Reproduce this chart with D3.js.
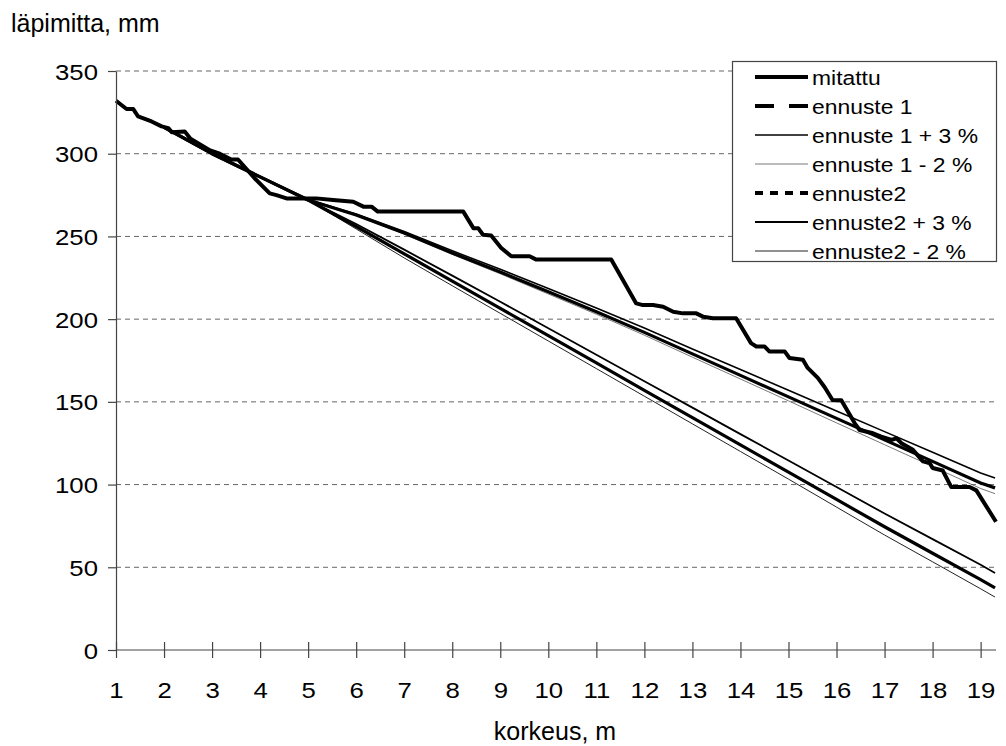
<!DOCTYPE html>
<meta charset="utf-8">
<style>
    body { margin: 0; background: #fff; }
    svg text {
        font-family: "Liberation Sans", Arial, Helvetica, sans-serif;
        fill: #000;
    }
    .grid line {
        stroke: #666;
        stroke-dasharray: 5,4;
    }
    .axis path, .axis line {
        stroke: #444;
        stroke-width: 1.2;
    }
</style>
<svg width="1006" height="746"></svg>
<script src="https://d3js.org/d3.v7.min.js"></script>
<script>

    // korkeus (m) and measured diameter (mm)
    var mitattuX = [1.00, 1.22, 1.36, 1.46, 1.74, 1.95, 2.09, 2.16, 2.43, 2.55, 2.96, 3.16,
        3.40, 3.54, 3.89, 4.20, 4.34, 4.55, 5.17, 5.52, 5.94, 6.15, 6.32, 6.45, 8.23, 8.44,
        8.54, 8.64, 8.81, 9.02, 9.23, 9.61, 9.75, 11.31, 11.83, 11.97, 12.18, 12.39, 12.60,
        12.80, 13.08, 13.22, 13.43, 13.91, 14.22, 14.33, 14.50, 14.60, 14.92, 15.02, 15.30,
        15.40, 15.61, 15.75, 15.92, 16.10, 16.38, 16.48, 16.76, 16.93, 17.15, 17.25, 17.35,
        17.59, 17.80, 17.94, 18.00, 18.21, 18.39, 18.77, 18.91, 19.32];
    var mitattuY = [332, 327, 327, 322.5, 319.5, 316.5, 315.5, 313, 313.5, 309, 302, 300,
        296.5, 296.5, 285, 276, 275, 273, 273, 272, 271, 268, 268, 265, 265, 255,
        255, 251, 250.5, 243, 238, 238, 236, 236, 209.5, 208.5, 208.5, 207.5, 204.5,
        203.5, 203.5, 201.5, 200.5, 200.5, 185.5, 183.5, 183.5, 180.5, 180.5, 176.5, 175.5,
        170.5, 164.5, 159, 151, 151, 137, 133, 131, 129, 127, 128, 125,
        121, 114, 113, 110, 108.5, 98.5, 98.5, 96.5, 77.5];

    // prediction heights and values
    var ennusteX = [2, 3, 4, 5, 6, 7, 8, 9, 10, 11, 12, 13, 14, 15, 16, 17, 18, 19, 19.3];
    var ennuste1 = [316, 300, 286, 272, 263, 252, 240, 228.5, 216.5, 204.5, 192, 179, 166, 153,
        140, 127, 114, 101, 98];
    var ennuste1Plus3 = [316, 300, 286, 272.3, 263.6, 253, 241.3, 230.1, 218.5, 206.8, 194.6,
        182, 169.5, 157, 144.5, 132, 119.5, 107, 104];
    var ennuste1Minus2 = [316, 300, 286, 271.8, 262.6, 251.4, 239.1, 227.4, 215.2, 203, 190.3,
        177, 163.8, 150.6, 137.3, 124.1, 110.9, 97.6, 94.5];
    var ennuste2 = [316, 300, 286, 272, 256, 239.5, 223, 206.5, 190, 173.5, 157, 140.5, 124,
        107.5, 91, 74.5, 58.5, 42.5, 37.5];
    var ennuste2Plus3 = [316, 300, 286, 272, 257.5, 242, 226.3, 210.5, 194.5, 178.5, 162.5,
        146.5, 130.5, 114.5, 98.5, 82.5, 67, 51.5, 46.5];
    var ennuste2Minus2 = [316, 300, 286, 272, 254.5, 237, 220.2, 203.5, 186.8, 170.1, 153.4,
        136.7, 120, 103.3, 86.4, 69.5, 53.3, 37, 32];

    var yTicks = [0, 50, 100, 150, 200, 250, 300, 350];
    var xTicks = [1, 2, 3, 4, 5, 6, 7, 8, 9, 10, 11, 12, 13, 14, 15, 16, 17, 18, 19];

    var series = [
        {name: "mitattu", xs: mitattuX, ys: mitattuY, w: 4, c: "#000", dash: null, lw: 4},
        {name: "ennuste 1", xs: ennusteX, ys: ennuste1, w: 3.2, c: "#000", dash: "19,15", lw: 4},
        {name: "ennuste 1 + 3 %", xs: ennusteX, ys: ennuste1Plus3, w: 1.6, c: "#000", dash: null, lw: 1.6},
        {name: "ennuste 1 - 2 %", xs: ennusteX, ys: ennuste1Minus2, w: 0.8, c: "#555", dash: null, lw: 0.8},
        {name: "ennuste2", xs: ennusteX, ys: ennuste2, w: 3.2, c: "#000", dash: "8,7", lw: 4},
        {name: "ennuste2 + 3 %", xs: ennusteX, ys: ennuste2Plus3, w: 1.8, c: "#000", dash: null, lw: 2},
        {name: "ennuste2 - 2 %", xs: ennusteX, ys: ennuste2Minus2, w: 1, c: "#222", dash: null, lw: 1}
    ];

    var svg = d3.select("svg");

    var x = d3.scaleLinear().domain([1, 19.32]).range([116, 996]);
    var y = d3.scaleLinear().domain([0, 350]).range([650, 71]);

    // dashed gridlines
    svg.append("g")
        .attr("class", "grid")
        .selectAll("line")
        .data(yTicks.slice(1))
        .enter().append("line")
        .attr("x1", x(1)).attr("x2", 996)
        .attr("y1", function (d) { return y(d); })
        .attr("y2", function (d) { return y(d); });

    var line = d3.line()
        .x(function (d) { return x(d[0]); })
        .y(function (d) { return y(d[1]); });

    // draw predictions first, measured on top
    var order = [3, 2, 1, 6, 5, 4, 0];
    order.forEach(function (i) {
        var s = series[i];
        svg.append("path")
            .datum(d3.zip(s.xs, s.ys))
            .attr("fill", "none")
            .attr("stroke", s.c)
            .attr("stroke-width", s.w)
            .attr("stroke-linejoin", "round")
            .attr("d", line);
    });

    var kx = 1.12;

    // y axis
    var yAxis = svg.append("g")
        .attr("class", "axis")
        .attr("transform", "translate(" + x(1) + ",0)")
        .call(d3.axisLeft(y).tickValues(yTicks).tickSize(8).tickSizeOuter(0));
    yAxis.selectAll(".tick text")
        .attr("x", -18 / kx)
        .attr("dy", "0.35em")
        .attr("transform", "scale(" + kx + ",1)")
        .style("font-size", "23px");

    // x axis, ticks cross the line
    var xAxis = svg.append("g")
        .attr("class", "axis")
        .attr("transform", "translate(0," + y(0) + ")")
        .call(d3.axisBottom(x).tickValues(xTicks).tickSize(8).tickSizeOuter(0));
    xAxis.select(".domain").attr("d", "M" + x(1) + ",0H996");
    xAxis.selectAll(".tick line").attr("y1", -8).attr("y2", 8);
    xAxis.selectAll(".tick text")
        .attr("y", 48)
        .attr("dy", 0)
        .attr("transform", "scale(" + kx + ",1)")
        .style("font-size", "23px");

    // axis titles
    svg.append("text")
        .attr("x", 11).attr("y", 32)
        .style("font-size", "25px")
        .text("läpimitta, mm");

    svg.append("text")
        .attr("x", 555).attr("y", 740)
        .attr("text-anchor", "middle")
        .style("font-size", "25px")
        .text("korkeus, m");

    // legend
    var legend = svg.append("g");
    legend.append("rect")
        .attr("x", 732.5).attr("y", 61.5)
        .attr("width", 264).attr("height", 200)
        .attr("fill", "#fff")
        .attr("stroke", "#444")
        .attr("stroke-width", 1.2);

    var row = legend.selectAll(".row")
        .data(series)
        .enter().append("g")
        .attr("class", "row")
        .attr("transform", function (d, i) {
            return "translate(0," + (77 + i * 29) + ")";
        });

    row.append("line")
        .attr("x1", 755).attr("x2", 808)
        .attr("stroke", function (d) { return d.c; })
        .attr("stroke-width", function (d) { return d.lw; })
        .attr("stroke-dasharray", function (d) { return d.dash; });

    row.append("text")
        .attr("transform", "translate(812,0) scale(1.09,1)")
        .attr("dy", "0.36em")
        .style("font-size", "21px")
        .text(function (d) { return d.name; });
</script>
